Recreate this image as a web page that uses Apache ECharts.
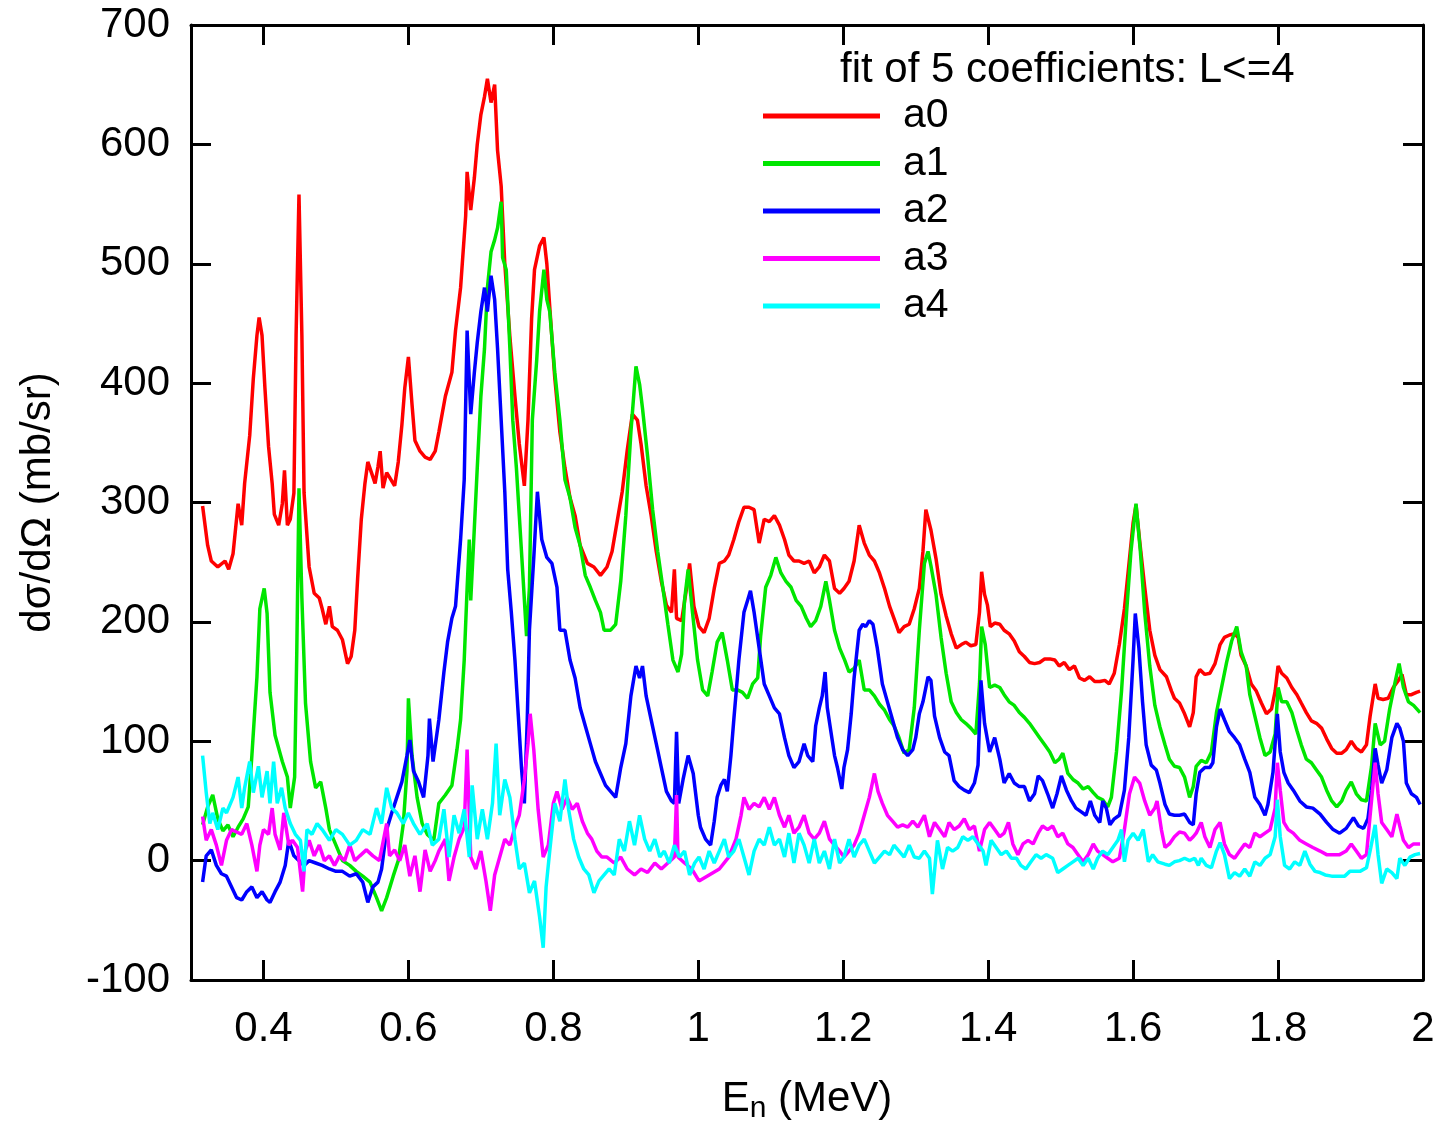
<!DOCTYPE html>
<html>
<head>
<meta charset="utf-8">
<script src="https://cdn.jsdelivr.net/npm/echarts@6/dist/echarts.min.js"></script>
<style>
html,body{margin:0;padding:0;background:#fff;}
#chart{width:1446px;height:1125px;}
</style>
</head>
<body>
<div id="chart"></div>
<script>
const seriesNames = ['a0', 'a1', 'a2', 'a3', 'a4'];
const xTicks = [0.4, 0.6, 0.8, 1.0, 1.2, 1.4, 1.6, 1.8, 2.0];
const yTicks = [-100, 0, 100, 200, 300, 400, 500, 600, 700];

const a0Data = [[0.316,297],[0.323,264],[0.328,251],[0.337,246],[0.347,251],[0.352,244],[0.358,257],[0.365,299],[0.370,281],[0.374,316],[0.381,356],[0.386,404],[0.391,440],[0.394,455],[0.398,440],[0.402,396],[0.407,347],[0.412,316],[0.415,290],[0.421,281],[0.426,299],[0.429,327],[0.433,281],[0.437,286],[0.442,308],[0.445,440],[0.449,558],[0.453,440],[0.456,308],[0.463,246],[0.470,224],[0.477,220],[0.481,211],[0.486,198],[0.491,213],[0.495,196],[0.502,193],[0.509,185],[0.516,165],[0.521,171],[0.526,193],[0.530,237],[0.535,286],[0.540,316],[0.544,334],[0.549,325],[0.554,316],[0.558,330],[0.561,343],[0.565,312],[0.570,325],[0.574,321],[0.581,314],[0.586,334],[0.591,365],[0.595,396],[0.600,422],[0.605,382],[0.609,352],[0.616,343],[0.623,338],[0.630,336],[0.637,343],
[0.642,359],[0.651,389],[0.660,409],[0.665,444],[0.672,480],[0.679,540],[0.681,577],[0.686,545],[0.691,572],[0.695,600],[0.700,625],[0.705,640],[0.709,655],[0.714,635],[0.719,650],[0.723,595],[0.728,565],[0.733,500],[0.740,439],[0.747,389],[0.753,349],[0.760,314],[0.765,369],[0.770,454],[0.774,495],[0.781,515],[0.787,522],[0.791,500],[0.795,464],[0.802,404],[0.809,359],[0.816,329],[0.823,304],[0.830,289],[0.837,264],[0.847,249],[0.856,246],[0.865,239],[0.874,246],[0.881,259],[0.888,284],[0.895,309],[0.902,344],[0.909,374],[0.916,369],[0.921,349],[0.928,314],[0.935,289],[0.942,259],[0.949,234],[0.956,214],[0.963,208],[0.967,244],[0.970,203],[0.977,201],[0.984,229],[0.988,249],
[0.994,213],[1.001,196],[1.008,191],[1.015,203],[1.022,228],[1.029,249],[1.036,251],[1.042,256],[1.049,269],[1.056,284],[1.063,296],[1.070,296],[1.077,294],[1.084,266],[1.091,286],[1.098,284],[1.105,289],[1.112,281],[1.119,269],[1.125,256],[1.132,251],[1.139,251],[1.146,249],[1.153,251],[1.160,241],[1.167,246],[1.174,256],[1.181,251],[1.188,228],[1.195,224],[1.201,228],[1.208,234],[1.215,251],[1.222,281],[1.229,266],[1.236,256],[1.243,251],[1.250,241],[1.257,228],[1.264,213],[1.270,203],[1.277,191],[1.284,196],[1.291,198],[1.298,211],[1.305,228],[1.310,259],[1.314,294],
[1.321,277],[1.328,253],[1.335,223],[1.342,205],[1.349,190],[1.356,178],[1.363,181],[1.369,183],[1.376,180],[1.383,181],[1.388,208],[1.391,242],[1.395,223],[1.399,214],[1.403,196],[1.409,199],[1.416,198],[1.422,193],[1.429,190],[1.436,184],[1.443,175],[1.450,171],[1.457,166],[1.464,165],[1.471,166],[1.478,169],[1.485,169],[1.492,168],[1.498,163],[1.505,166],[1.512,160],[1.519,163],[1.526,153],[1.533,151],[1.540,154],[1.547,150],[1.554,150],[1.561,151],[1.567,148],[1.574,157],[1.581,181],[1.588,211],[1.595,253],[1.600,283],[1.604,298],[1.609,268],[1.616,229],[1.623,193],[1.630,172],[1.637,160],[1.646,154],[1.653,142],
[1.657,136],[1.664,132],[1.671,123],[1.678,112],[1.683,124],[1.687,154],[1.692,160],[1.699,156],[1.706,157],[1.713,165],[1.720,181],[1.726,187],[1.733,189],[1.740,190],[1.745,187],[1.749,172],[1.756,163],[1.763,148],[1.770,142],[1.777,132],[1.784,123],[1.791,127],[1.796,142],[1.800,163],[1.805,157],[1.812,153],[1.819,145],[1.826,139],[1.832,132],[1.839,124],[1.846,117],[1.853,115],[1.860,111],[1.867,102],[1.874,94],[1.881,90],[1.888,90],[1.894,93],[1.901,100],[1.908,94],[1.915,91],[1.922,97],[1.927,121],[1.934,148],[1.938,136],[1.945,135],[1.952,136],[1.959,145],[1.966,151],[1.971,156],[1.977,139],[1.984,139],[1.991,141],[1.996,142]];

const a1Data = [[0.316,30],[0.323,45],[0.330,55],[0.337,35],[0.344,25],[0.351,30],[0.358,20],[0.365,28],[0.372,35],[0.379,45],[0.384,88],[0.391,154],[0.395,211],[0.401,228],[0.405,207],[0.409,141],[0.416,105],[0.426,83],[0.433,70],[0.437,44],[0.443,70],[0.446,176],[0.449,312],[0.453,220],[0.458,132],[0.465,83],[0.472,61],[0.479,66],[0.486,44],[0.491,26],[0.500,13],[0.509,0],[0.519,-4],[0.528,-9],[0.537,-13],[0.547,-18],[0.556,-31],[0.563,-42],[0.570,-31],[0.579,-13],[0.586,0],[0.593,31],[0.598,75],[0.600,136],[0.605,88],[0.612,53],[0.619,31],[0.626,22],[0.635,17],
[0.642,48],[0.651,55],[0.660,63],[0.667,93],[0.672,118],[0.677,168],[0.681,228],[0.684,269],[0.686,218],[0.691,279],[0.695,329],[0.700,389],[0.705,429],[0.709,480],[0.714,510],[0.719,520],[0.723,530],[0.728,552],[0.730,505],[0.735,495],[0.740,429],[0.744,369],[0.749,329],[0.753,289],[0.758,239],[0.763,188],[0.767,229],[0.771,369],[0.777,419],[0.781,460],[0.787,495],[0.791,470],[0.795,460],[0.802,409],[0.809,369],[0.816,319],[0.823,304],[0.830,279],[0.837,264],[0.844,239],[0.851,229],[0.858,218],[0.865,208],[0.870,193],[0.879,193],[0.886,198],[0.893,234],[0.900,289],[0.907,359],[0.914,414],[0.919,399],[0.923,379],[0.930,339],[0.937,294],[0.944,259],[0.951,229],[0.958,198],[0.965,168],[0.972,158],[0.977,173],[0.981,218],[0.986,244],
[0.992,208],[0.999,168],[1.006,143],[1.013,138],[1.019,158],[1.026,183],[1.033,191],[1.040,168],[1.047,143],[1.054,143],[1.061,141],[1.068,136],[1.075,148],[1.082,153],[1.086,188],[1.093,229],[1.100,239],[1.107,254],[1.114,241],[1.121,234],[1.128,229],[1.135,218],[1.142,213],[1.149,203],[1.155,196],[1.162,201],[1.169,213],[1.176,234],[1.181,218],[1.188,193],[1.195,178],[1.202,168],[1.208,158],[1.215,161],[1.222,168],[1.229,143],[1.236,143],[1.243,138],[1.250,131],[1.257,126],[1.264,118],[1.270,113],[1.277,103],[1.284,90],[1.291,93],[1.298,128],[1.305,193],[1.312,249],[1.317,259],
[1.321,247],[1.328,223],[1.335,187],[1.342,157],[1.349,133],[1.356,124],[1.363,118],[1.369,115],[1.376,111],[1.383,106],[1.388,148],[1.391,196],[1.396,181],[1.402,145],[1.409,147],[1.416,145],[1.422,139],[1.429,133],[1.436,130],[1.443,124],[1.450,120],[1.457,115],[1.464,109],[1.471,103],[1.478,97],[1.485,91],[1.492,82],[1.498,85],[1.503,90],[1.510,73],[1.517,68],[1.524,65],[1.531,60],[1.538,62],[1.545,57],[1.551,53],[1.558,51],[1.565,45],[1.570,53],[1.577,91],[1.584,142],[1.591,208],[1.597,259],[1.604,299],[1.610,259],[1.616,208],[1.623,163],[1.630,130],
[1.637,112],[1.644,97],[1.650,85],[1.657,79],[1.664,78],[1.671,70],[1.678,53],[1.683,62],[1.687,79],[1.694,84],[1.701,82],[1.708,91],[1.715,124],[1.722,145],[1.729,166],[1.736,184],[1.743,196],[1.749,175],[1.756,163],[1.761,139],[1.768,121],[1.775,103],[1.782,88],[1.789,91],[1.796,106],[1.800,145],[1.805,133],[1.812,133],[1.819,124],[1.826,109],[1.832,97],[1.839,85],[1.846,82],[1.853,76],[1.860,70],[1.867,59],[1.874,50],[1.881,45],[1.888,50],[1.894,59],[1.901,66],[1.908,56],[1.915,51],[1.922,50],[1.929,79],[1.934,115],[1.941,97],[1.947,100],[1.954,127],[1.961,148],[1.967,165],[1.973,145],[1.980,133],[1.987,130],[1.996,124]];

const a2Data = [[0.316,-18],[0.321,4],[0.328,9],[0.335,-4],[0.342,-11],[0.349,-13],[0.356,-22],[0.363,-31],[0.370,-33],[0.377,-26],[0.384,-22],[0.391,-31],[0.398,-26],[0.405,-33],[0.409,-35],[0.416,-26],[0.423,-18],[0.430,-4],[0.435,17],[0.442,4],[0.449,0],[0.456,-4],[0.463,0],[0.472,-2],[0.481,-4],[0.491,-7],[0.500,-9],[0.509,-9],[0.519,-13],[0.528,-11],[0.537,-18],[0.544,-35],[0.551,-22],[0.558,-18],[0.563,-7],[0.570,26],[0.577,40],[0.584,53],[0.591,66],[0.598,88],[0.602,101],[0.607,75],[0.614,66],[0.621,53],[0.627,88],[0.629,119],[0.634,83],
[0.642,118],[0.649,158],[0.654,183],[0.660,203],[0.665,213],[0.672,269],[0.677,319],[0.681,444],[0.686,374],[0.691,409],[0.695,434],[0.700,460],[0.705,480],[0.709,460],[0.714,490],[0.719,470],[0.723,429],[0.728,369],[0.733,309],[0.737,244],[0.742,208],[0.747,168],[0.751,128],[0.756,78],[0.760,48],[0.764,118],[0.767,193],[0.773,254],[0.778,309],[0.784,269],[0.791,254],[0.798,249],[0.805,229],[0.809,193],[0.816,193],[0.823,168],[0.830,153],[0.837,128],[0.844,113],[0.851,98],[0.858,83],[0.865,73],[0.872,63],[0.879,58],[0.886,53],[0.893,78],[0.900,98],[0.907,138],[0.914,163],[0.919,153],[0.923,163],[0.928,138],[0.935,118],[0.942,98],[0.949,78],[0.956,58],[0.963,50],[0.967,48],[0.970,108],[0.973,48],[0.979,68],[0.986,88],[0.993,73],[1.000,38],
[1.003,28],[1.010,18],[1.017,13],[1.022,33],[1.026,53],[1.031,63],[1.036,68],[1.040,58],[1.045,88],[1.049,118],[1.056,168],[1.063,208],[1.068,218],[1.072,226],[1.077,208],[1.084,178],[1.091,148],[1.098,138],[1.105,128],[1.112,123],[1.119,103],[1.125,88],[1.132,78],[1.139,83],[1.146,98],[1.151,88],[1.158,83],[1.162,113],[1.167,128],[1.171,138],[1.175,158],[1.178,128],[1.183,108],[1.188,88],[1.192,78],[1.198,60],[1.201,78],[1.206,93],[1.211,123],[1.215,153],[1.222,193],[1.227,198],[1.231,196],[1.236,201],[1.241,198],[1.247,178],[1.254,148],[1.261,133],[1.268,118],[1.275,103],[1.282,93],[1.289,88],[1.296,93],[1.300,103],[1.305,123],
[1.310,133],[1.317,154],[1.321,151],[1.326,121],[1.333,103],[1.340,91],[1.346,88],[1.353,67],[1.360,62],[1.367,59],[1.374,57],[1.381,65],[1.386,80],[1.390,151],[1.395,115],[1.402,91],[1.409,103],[1.416,85],[1.422,65],[1.429,73],[1.436,65],[1.443,62],[1.450,62],[1.457,50],[1.464,56],[1.469,71],[1.475,67],[1.482,56],[1.489,44],[1.495,56],[1.501,71],[1.508,59],[1.515,50],[1.521,44],[1.528,41],[1.535,38],[1.541,50],[1.547,38],[1.554,32],[1.558,50],[1.563,44],[1.568,30],[1.574,35],[1.581,38],[1.588,59],[1.594,103],[1.600,169],[1.603,207],[1.608,178],[1.613,133],[1.618,97],[1.625,80],[1.632,76],
[1.637,65],[1.644,47],[1.650,39],[1.657,38],[1.664,38],[1.671,39],[1.678,32],[1.683,30],[1.687,56],[1.692,74],[1.699,78],[1.706,78],[1.710,82],[1.715,112],[1.720,127],[1.726,118],[1.733,108],[1.740,103],[1.747,97],[1.754,85],[1.761,74],[1.768,53],[1.775,47],[1.782,38],[1.786,47],[1.793,74],[1.799,123],[1.803,91],[1.808,74],[1.814,65],[1.821,59],[1.830,50],[1.839,45],[1.848,44],[1.858,39],[1.867,32],[1.876,26],[1.885,23],[1.894,27],[1.904,36],[1.911,29],[1.918,27],[1.924,35],[1.929,59],[1.934,94],[1.938,80],[1.943,65],[1.950,76],[1.957,103],[1.964,115],[1.968,111],[1.973,100],[1.977,65],[1.984,56],[1.991,53],[1.996,47]];

const a3Data = [[0.316,37],[0.321,17],[0.328,26],[0.335,13],[0.342,-4],[0.349,17],[0.356,26],[0.363,24],[0.370,22],[0.377,31],[0.384,13],[0.391,-9],[0.395,13],[0.400,26],[0.407,22],[0.412,44],[0.416,22],[0.423,9],[0.428,40],[0.435,13],[0.440,17],[0.447,11],[0.454,-26],[0.458,9],[0.463,17],[0.470,4],[0.477,13],[0.484,0],[0.491,4],[0.498,-4],[0.505,4],[0.512,0],[0.519,13],[0.526,0],[0.533,4],[0.542,9],[0.551,4],[0.560,0],[0.570,31],[0.574,4],[0.581,9],[0.588,0],[0.595,13],[0.602,-13],[0.609,4],[0.616,-26],[0.623,9],[0.630,-9],[0.637,0],
[0.642,8],[0.651,18],[0.656,-17],[0.663,3],[0.670,18],[0.677,28],[0.681,93],[0.686,3],[0.693,-7],[0.700,8],[0.707,-17],[0.713,-42],[0.719,-12],[0.726,3],[0.733,18],[0.740,13],[0.747,28],[0.753,38],[0.760,68],[0.765,98],[0.768,123],[0.773,93],[0.779,43],[0.786,3],[0.793,13],[0.800,48],[0.805,58],[0.812,43],[0.819,53],[0.826,43],[0.833,48],[0.840,33],[0.847,23],[0.853,18],[0.860,8],[0.867,3],[0.874,3],[0.884,-2],[0.893,3],[0.902,-7],[0.912,-12],[0.921,-7],[0.930,-10],[0.940,-2],[0.949,-7],[0.958,-2],[0.967,3],[0.970,55],[0.972,3],[0.981,-2],[0.991,-7],
[1.001,-17],[1.015,-12],[1.029,-7],[1.042,3],[1.052,18],[1.059,38],[1.063,53],[1.070,43],[1.077,48],[1.084,45],[1.091,53],[1.098,43],[1.105,53],[1.112,38],[1.119,28],[1.125,38],[1.132,23],[1.139,28],[1.146,38],[1.153,23],[1.160,18],[1.167,23],[1.174,33],[1.181,18],[1.188,13],[1.195,8],[1.201,3],[1.208,8],[1.215,13],[1.222,23],[1.229,38],[1.236,53],[1.243,73],[1.248,58],[1.254,48],[1.261,38],[1.268,33],[1.275,28],[1.282,30],[1.289,28],[1.296,33],[1.303,28],
[1.312,38],[1.319,20],[1.326,32],[1.333,26],[1.340,20],[1.346,32],[1.353,26],[1.360,29],[1.367,35],[1.374,26],[1.381,29],[1.388,8],[1.395,26],[1.402,32],[1.409,26],[1.416,20],[1.422,23],[1.428,32],[1.434,14],[1.441,5],[1.448,14],[1.455,17],[1.462,14],[1.469,23],[1.475,29],[1.482,26],[1.489,29],[1.496,20],[1.503,23],[1.510,14],[1.517,11],[1.524,5],[1.531,-1],[1.538,5],[1.545,14],[1.551,8],[1.558,5],[1.565,2],[1.572,-1],[1.581,2],[1.588,26],[1.595,56],[1.602,70],[1.609,65],[1.616,50],[1.623,38],[1.630,44],[1.633,50],
[1.639,26],[1.644,11],[1.650,14],[1.657,20],[1.664,24],[1.671,23],[1.678,17],[1.683,20],[1.687,23],[1.694,32],[1.699,20],[1.706,11],[1.713,26],[1.720,32],[1.726,14],[1.733,5],[1.740,2],[1.747,8],[1.754,14],[1.761,11],[1.768,23],[1.775,20],[1.782,23],[1.789,26],[1.796,44],[1.799,82],[1.803,59],[1.808,32],[1.814,26],[1.821,23],[1.830,17],[1.839,14],[1.848,11],[1.858,8],[1.867,5],[1.876,5],[1.885,5],[1.894,8],[1.901,14],[1.908,8],[1.915,2],[1.922,5],[1.928,44],[1.934,82],[1.938,56],[1.943,32],[1.950,26],[1.957,20],[1.964,39],[1.968,29],[1.973,17],[1.980,11],[1.987,14],[1.996,14]];

const a4Data = [[0.316,88],[0.321,57],[0.326,31],[0.330,40],[0.337,26],[0.344,44],[0.349,40],[0.358,53],[0.365,70],[0.370,44],[0.374,61],[0.381,83],[0.386,57],[0.393,79],[0.398,53],[0.405,75],[0.409,48],[0.414,83],[0.419,48],[0.425,61],[0.430,44],[0.437,31],[0.444,22],[0.451,17],[0.456,-9],[0.460,26],[0.467,22],[0.474,31],[0.481,26],[0.491,17],[0.500,26],[0.509,22],[0.519,13],[0.528,17],[0.537,26],[0.547,22],[0.556,44],[0.563,31],[0.570,61],[0.577,44],[0.584,40],[0.593,31],[0.600,40],[0.607,31],[0.616,22],[0.626,31],[0.633,13],
[0.642,18],[0.649,43],[0.656,3],[0.663,38],[0.670,23],[0.677,43],[0.684,3],[0.688,63],[0.695,18],[0.702,43],[0.709,18],[0.716,48],[0.721,98],[0.726,38],[0.733,68],[0.740,53],[0.747,18],[0.753,-7],[0.760,-2],[0.767,-27],[0.774,-17],[0.781,-47],[0.786,-73],[0.790,-22],[0.795,8],[0.802,48],[0.809,33],[0.816,68],[0.821,43],[0.828,18],[0.835,3],[0.842,-7],[0.849,-12],[0.856,-27],[0.863,-17],[0.870,-12],[0.877,-7],[0.884,-12],[0.891,18],[0.898,8],[0.905,33],[0.912,13],[0.919,38],[0.926,18],[0.933,8],[0.940,18],[0.947,3],[0.953,8],[0.960,-2],[0.967,13],[0.974,3],[0.981,8],[0.988,-12],[0.995,-2],
[1.001,3],[1.008,-7],[1.015,8],[1.022,-2],[1.029,8],[1.036,18],[1.042,3],[1.049,8],[1.056,18],[1.063,3],[1.070,-12],[1.077,8],[1.084,18],[1.091,13],[1.098,28],[1.105,13],[1.112,18],[1.119,3],[1.125,23],[1.132,-2],[1.139,23],[1.146,13],[1.153,-2],[1.160,18],[1.167,-2],[1.174,8],[1.181,-7],[1.188,18],[1.195,-2],[1.201,3],[1.208,18],[1.215,3],[1.222,13],[1.229,18],[1.236,8],[1.243,-2],[1.250,3],[1.257,8],[1.264,5],[1.270,13],[1.277,8],[1.284,3],[1.291,13],[1.298,3],
[1.305,2],[1.312,8],[1.319,2],[1.323,-28],[1.330,17],[1.337,-7],[1.344,11],[1.351,8],[1.358,11],[1.365,20],[1.372,17],[1.379,20],[1.386,14],[1.393,8],[1.397,-4],[1.404,17],[1.411,11],[1.418,5],[1.425,8],[1.432,2],[1.439,2],[1.445,-4],[1.452,-7],[1.459,-1],[1.466,5],[1.473,2],[1.480,5],[1.489,2],[1.496,-10],[1.503,-7],[1.510,-4],[1.517,-1],[1.524,2],[1.531,-4],[1.538,2],[1.545,-7],[1.551,2],[1.558,8],[1.565,5],[1.572,11],[1.579,17],[1.584,26],[1.588,-1],[1.593,17],[1.600,23],[1.607,17],[1.614,26],[1.621,-1],[1.627,5],[1.634,-1],
[1.644,-3],[1.650,-4],[1.657,-1],[1.664,0],[1.671,2],[1.678,0],[1.685,2],[1.690,-4],[1.694,2],[1.701,-4],[1.708,-6],[1.715,8],[1.720,15],[1.726,5],[1.733,-15],[1.740,-10],[1.747,-13],[1.754,-7],[1.761,-13],[1.768,-1],[1.775,-4],[1.782,2],[1.789,5],[1.796,20],[1.799,51],[1.803,20],[1.809,-4],[1.816,-7],[1.823,-1],[1.830,-4],[1.837,8],[1.844,-3],[1.851,-9],[1.858,-10],[1.865,-12],[1.874,-13],[1.883,-13],[1.892,-13],[1.899,-9],[1.906,-9],[1.913,-9],[1.922,-6],[1.928,11],[1.934,30],[1.938,5],[1.943,-19],[1.950,-7],[1.957,-10],[1.964,-15],[1.968,2],[1.975,-4],[1.982,3],[1.989,5],[1.996,6]];

const allData = [a0Data, a1Data, a2Data, a3Data, a4Data];
const colors = ['#ff0000', '#00e600', '#0000ff', '#ff00ff', '#00ffff'];
const FONT = 'Liberation Sans, Arial, sans-serif';

const chart = echarts.init(document.getElementById('chart'), null, {renderer: 'canvas'});

function xAxisCfg(pos, showLabels) {
  return {
    type: 'value', position: pos, min: 0.3, max: 2.0,
    axisLine: {show: true, onZero: false, lineStyle: {color: '#000', width: 3}},
    axisTick: {show: true, inside: true, length: 20, customValues: xTicks, lineStyle: {color: '#000', width: 3}},
    axisLabel: {show: showLabels, customValues: xTicks, fontSize: 42, color: '#000', fontFamily: FONT, margin: 28,
      formatter: v => String(Math.round(v * 10) / 10)},
    splitLine: {show: false}
  };
}
function yAxisCfg(pos, showLabels) {
  return {
    type: 'value', position: pos, min: -100, max: 700, interval: 100,
    axisLine: {show: true, onZero: false, lineStyle: {color: '#000', width: 3}},
    axisTick: {show: true, inside: true, length: 20, lineStyle: {color: '#000', width: 3}},
    axisLabel: {show: showLabels, fontSize: 42, color: '#000', fontFamily: FONT, margin: 21},
    splitLine: {show: false}
  };
}

const xBottom = xAxisCfg('bottom', true);
xBottom.name = '{e|E}{n|n}{m| (MeV)}';
xBottom.nameLocation = 'middle';
xBottom.nameGap = 98;
xBottom.nameTextStyle = {
  fontFamily: FONT, color: '#000',
  rich: {
    e: {fontSize: 42, lineHeight: 46, verticalAlign: 'top', fontFamily: FONT, color: '#000'},
    n: {fontSize: 30, lineHeight: 30, padding: [22, 0, 0, 0], verticalAlign: 'bottom', fontFamily: FONT, color: '#000'},
    m: {fontSize: 42, lineHeight: 46, verticalAlign: 'top', fontFamily: FONT, color: '#000'}
  }
};
const xTop = xAxisCfg('top', false);

const yLeft = yAxisCfg('left', true);
yLeft.name = 'dσ/dΩ (mb/sr)';
yLeft.nameLocation = 'middle';
yLeft.nameGap = 132;
yLeft.nameTextStyle = {fontSize: 42, fontFamily: FONT, color: '#000'};
const yRight = yAxisCfg('right', false);

const option = {
  animation: false,
  backgroundColor: '#fff',
  color: colors,
  title: {
    text: 'fit of 5 coefficients: L<=4', left: 840, top: 47, padding: 0,
    textStyle: {fontSize: 42, lineHeight: 46, fontWeight: 'normal', color: '#000', fontFamily: FONT}
  },
  legend: {
    orient: 'vertical', left: 763, top: 94, padding: 0,
    itemWidth: 117, itemHeight: 5, itemGap: 3.5, icon: 'rect',
    data: seriesNames,
    textStyle: {fontSize: 41, lineHeight: 44, color: '#000', fontFamily: FONT, padding: [0, 0, 0, 18]}
  },
  grid: {left: 191, right: 23, top: 25, bottom: 145, containLabel: false, outerBoundsMode: 'none'},
  xAxis: [xBottom, xTop],
  yAxis: [yLeft, yRight],
  series: seriesNames.map((name, i) => ({
    name: name, type: 'line', xAxisIndex: 0, yAxisIndex: 0,
    data: allData[i], showSymbol: false, symbol: 'none',
    lineStyle: {color: colors[i], width: 3.5}, itemStyle: {color: colors[i]},
    clip: true, z: 2 + i
  }))
};
chart.setOption(option);
</script>
</body>
</html>
